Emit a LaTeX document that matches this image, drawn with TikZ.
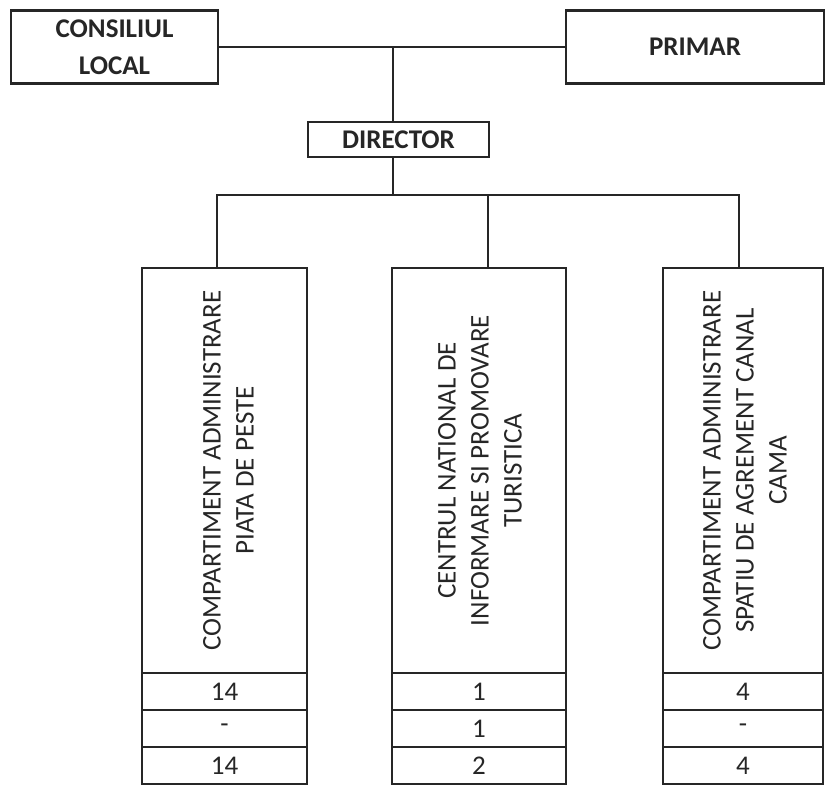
\documentclass[tikz,border=0pt]{standalone}
\usepackage{fontspec}
\setmainfont{Carlito}
\usetikzlibrary{positioning}

\begin{document}
\begin{tikzpicture}[x=1pt,y=1pt]
    \tikzset{box/.style={draw=black!85,line width=2.2pt,outer sep=0pt,inner sep=0pt,
            align=center,text=black!85,font=\fontsize{27}{37}\selectfont\bfseries},
        col/.style={draw=black!85,line width=2.2pt,outer sep=0pt,
            minimum height=405pt,minimum width=#1},
        vtext/.style={rotate=90,align=center,text=black!85,
            font=\fontsize{27}{33}\selectfont},
        cell/.style={draw=black!85,line width=2.2pt,outer sep=0pt,inner sep=0pt,
            minimum height=37pt,minimum width=#1,text=black!85,
            font=\fontsize{27}{33}\selectfont},
        link/.style={draw=black!85,line width=2.2pt}}
    \useasboundingbox (0,0) rectangle (828,791);
    % top level
    \node[box,minimum width=207pt,minimum height=73pt] (consiliu) at (114.5,744) {CONSILIUL\\LOCAL};
    \node[box,minimum width=258pt,minimum height=73pt] (primar) at (695,744) {PRIMAR};
    \node[box,minimum width=181pt,minimum height=35pt] (director) at (398.5,651.5) {DIRECTOR};
    \coordinate (top) at (393,744);
    \coordinate (hub) at (393,596);
    \draw[link] (consiliu.east) -- (primar.west);
    \draw[link] (top) -- (top |- director.north);
    \draw[link] (top |- director.south) -- (hub);
    % columns
    \node[col=165pt] (colA) at (224.5,320.5) {};
    \node[col=174pt] (colB) at (479,320.5) {};
    \node[col=160pt] (colC) at (743,320.5) {};
    \node[vtext] (textA) at ([xshift=4pt]colA.center) {COMPARTIMENT ADMINISTRARE\\PIATA DE PESTE};
    \node[vtext] (textB) at ([xshift=1pt]colB.center) {CENTRUL NATIONAL DE\\INFORMARE SI PROMOVARE\\TURISTICA};
    \node[vtext] (textC) at ([xshift=2pt]colC.center) {COMPARTIMENT ADMINISTRARE\\SPATIU DE AGREMENT CANAL\\CAMA};
    \draw[link] ([xshift=-7.5pt]colA.north) |- (hub) -| ([xshift=-4pt]colC.north);
    \draw[link] ([xshift=9pt]colB.north) -- ([xshift=9pt]colB.north |- hub);
    % staff numbers
    \node[cell=165pt,below=0pt of colA] (a1) {14};
    \node[cell=165pt,below=0pt of a1] (a2) {-};
    \node[cell=165pt,below=0pt of a2] (a3) {14};
    \node[cell=174pt,below=0pt of colB] (b1) {1};
    \node[cell=174pt,below=0pt of b1] (b2) {1};
    \node[cell=174pt,below=0pt of b2] (b3) {2};
    \node[cell=160pt,below=0pt of colC] (c1) {4};
    \node[cell=160pt,below=0pt of c1] (c2) {-};
    \node[cell=160pt,below=0pt of c2] (c3) {4};
\end{tikzpicture}
\end{document}
